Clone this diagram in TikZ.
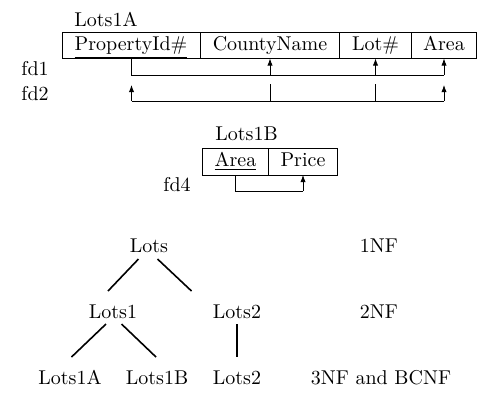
\documentclass[tikz,border=0pt]{standalone}
\usetikzlibrary{arrows.meta}
\begin{document}
\begin{tikzpicture}[x=0.5pt,y=-0.5pt,
  txt/.style={inner sep=0pt,anchor=base},
  lbl/.style={inner sep=0pt,anchor=base west},
  tbl/.style={line width=0.4pt},
  fd/.style={line width=0.4pt},
  fdarrow/.style={line width=0.4pt,-{Latex[length=3.5pt,width=2.6pt]}},
  edge/.style={line width=0.8pt}]
\useasboundingbox (0,0) rectangle (490,404);
% ---- Lots1A table
\node[lbl] (t1) at (74,26.5) {Lots1A};
\draw[tbl] (62,32.5) rectangle (476,58.5);
\draw[tbl] (200,32.5) -- (200,58.5);
\draw[tbl] (339.5,32.5) -- (339.5,58.5);
\draw[tbl] (411.5,32.5) -- (411.5,58.5);
\node[txt] (pid) at (131,50) {\underline{PropertyId\#}};
\node[txt] (cn) at (270,50) {CountyName};
\node[txt] (lot) at (375.5,50) {Lot\#};
\node[txt] (ar) at (444,50) {Area};
\coordinate (b1) at (131.5,58.5);
\coordinate (b2) at (270,58.5);
\coordinate (b3) at (375.5,58.5);
\coordinate (b4) at (444,58.5);
\node[lbl] (fd1) at (21,75) {fd1};
\node[lbl] (fd2) at (21,100) {fd2};
% fd1
\coordinate (h1a) at (131.5,75);
\coordinate (h1b) at (270,75);
\coordinate (h1c) at (375.5,75);
\coordinate (h1d) at (444,75);
\draw[fd] (b1) -- (h1a) -- (h1d);
\draw[fdarrow] (h1b) -- (b2);
\draw[fdarrow] (h1c) -- (b3);
\draw[fdarrow] (h1d) -- (b4);
% fd2
\coordinate (h2a) at (131.5,101);
\coordinate (h2b) at (270,101);
\coordinate (h2c) at (375.5,101);
\coordinate (h2d) at (444,101);
\coordinate (t2a) at (131.5,85);
\coordinate (t2b) at (270,84);
\coordinate (t2c) at (375.5,84);
\coordinate (t2d) at (444,85);
\draw[fd] (h2a) -- (h2d);
\draw[fdarrow] (h2a) -- (t2a);
\draw[fd] (h2b) -- (t2b);
\draw[fd] (h2c) -- (t2c);
\draw[fdarrow] (h2d) -- (t2d);
% ---- Lots1B table
\node[lbl] (t2) at (215,140) {Lots1B};
\draw[tbl] (202.5,148.5) rectangle (337.5,175);
\draw[tbl] (268.5,148.5) -- (268.5,175);
\node[txt] (ar2) at (235.5,166) {\underline{Area}};
\node[txt] (pr) at (303,166) {Price};
\node[lbl] (fd4) at (163,191) {fd4};
\coordinate (c1) at (235.5,175);
\coordinate (c2) at (303,175);
\coordinate (c3) at (235.5,191);
\coordinate (c4) at (303,191);
\draw[fd] (c1) -- (c3) -- (c4);
\draw[fdarrow] (c4) -- (c2);
% ---- tree
\node[txt] (lots) at (149,252) {Lots};
\node[txt] (nf1) at (379,252) {1NF};
\node[txt] (lots1) at (113,318) {Lots1};
\node[txt] (lots2) at (237,318) {Lots2};
\node[txt] (nf2) at (379,318) {2NF};
\node[txt] (lots1a) at (70,384) {Lots1A};
\node[txt] (lots1b) at (157,384) {Lots1B};
\node[txt] (lots2b) at (237,384) {Lots2};
\node[txt] (nf3) at (381,384) {3NF and BCNF};
\coordinate (e1s) at (138.5,259);
\coordinate (e1e) at (108,291);
\coordinate (e2s) at (157.5,259);
\coordinate (e2e) at (191.5,291);
\coordinate (e3s) at (106,324);
\coordinate (e3e) at (71.5,357);
\coordinate (e4s) at (121.5,324);
\coordinate (e4e) at (156,357);
\coordinate (e5s) at (237,324);
\coordinate (e5e) at (237,357);
\draw[edge] (e1s) -- (e1e);
\draw[edge] (e2s) -- (e2e);
\draw[edge] (e3s) -- (e3e);
\draw[edge] (e4s) -- (e4e);
\draw[edge] (e5s) -- (e5e);
\end{tikzpicture}
\end{document}
